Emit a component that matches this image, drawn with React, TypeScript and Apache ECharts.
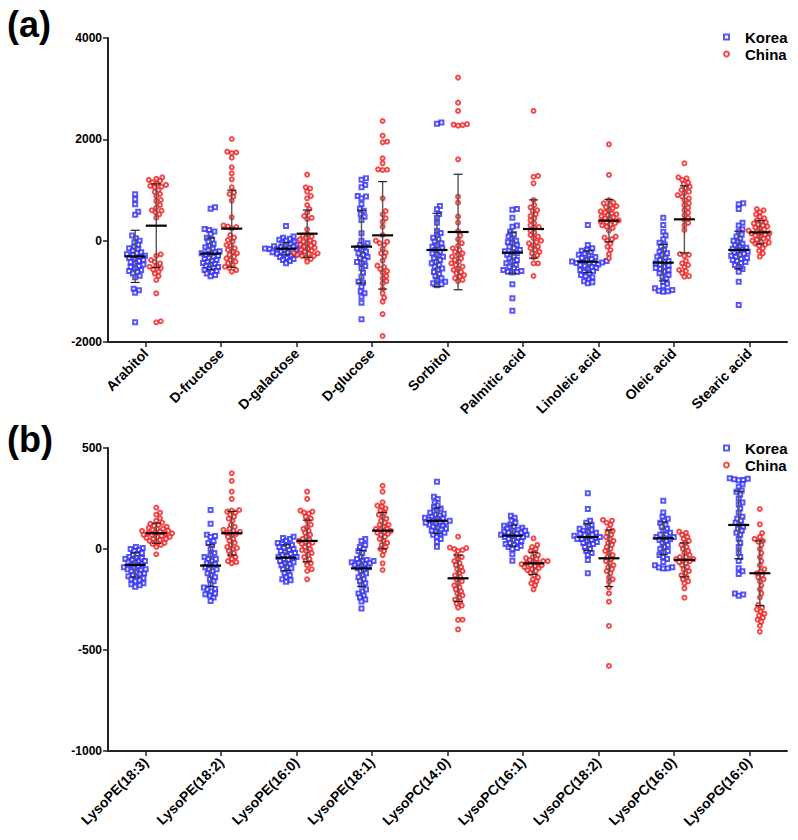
import React, { useEffect, useRef } from "react";
import * as echarts from "echarts";

// ---------- categories ----------
const categoriesA = ["Arabitol", "D-fructose", "D-galactose", "D-glucose", "Sorbitol", "Palmitic acid", "Linoleic acid", "Oleic acid", "Stearic acid"];
const categoriesB = ["LysoPE(18:3)", "LysoPE(18:2)", "LysoPE(16:0)", "LysoPE(18:1)", "LysoPC(14:0)", "LysoPC(16:1)", "LysoPC(18:2)", "LysoPC(16:0)", "LysoPG(16:0)"];

// ---------- panel (a) Korea ----------
const kA_Arabitol = [915, 816, 718, 572, 513, 100, 50, 0, -30, -80, -120, -150, -170, -200, -230, -250, -270, -290, -300, -320, -340, -360, -380, -400, -420, -450, -470, -500, -520, -550, -580, -600, -620, -650, -690, -720, -950, -980, -1030, -1610];
const kA_Fructose = [660, 630, 230, 210, 180, 130, 60, 20, -20, -60, -100, -130, -160, -190, -210, -230, -250, -260, -280, -300, -320, -340, -360, -380, -400, -420, -440, -460, -480, -500, -520, -540, -560, -580, -600, -620, -650, -680, -700];
const kA_Galactose = [290, 80, 60, 40, 20, 0, -20, -40, -60, -80, -90, -100, -110, -120, -130, -140, -150, -155, -160, -165, -170, -180, -190, -200, -210, -220, -230, -240, -250, -260, -270, -280, -300, -320, -340, -360, -380, -400, -447];
const kA_Glucose = [1230, 1200, 1099, 1053, 882, 870, 836, 723, 632, 592, 526, 474, 408, 145, 0, -53, -90, -119, -150, -184, -220, -250, -283, -320, -349, -380, -420, -447, -500, -546, -632, -711, -809, -830, -908, -1000, -1040, -1105, -1224, -1553];
const kA_Sorbitol = [2330, 2310, 684, 619, 526, 454, 355, 198, 150, 105, 60, 26, -20, -53, -90, -119, -150, -184, -220, -250, -280, -316, -350, -382, -420, -447, -480, -513, -550, -579, -620, -658, -700, -743, -780, -809, -842, -860, -880];
const kA_Palmitic = [625, 610, 454, 300, 277, 178, 120, 80, 40, 0, -30, -53, -90, -119, -150, -184, -210, -230, -250, -280, -316, -350, -382, -410, -447, -480, -513, -550, -580, -600, -612, -620, -630, -862, -1138, -1382];
const kA_Linoleic = [309, -86, -150, -184, -200, -230, -260, -280, -300, -320, -340, -360, -380, -400, -410, -420, -430, -440, -450, -460, -470, -480, -500, -520, -540, -560, -580, -600, -620, -650, -680, -720, -760, -800, -842, -820, -700];
const kA_Oleic = [454, 309, 178, 100, 26, -40, -80, -120, -184, -220, -250, -280, -316, -340, -382, -400, -420, -447, -470, -490, -513, -540, -560, -579, -610, -645, -680, -711, -750, -809, -850, -895, -940, -974, -990, -1007, -1000];
const kA_Stearic = [737, 720, 625, 355, 300, 223, 180, 120, 80, 40, 0, -30, -60, -90, -120, -140, -160, -180, -200, -220, -240, -260, -280, -300, -320, -340, -360, -380, -400, -420, -447, -480, -520, -560, -612, -809, -1270];

// ---------- panel (a) China ----------
const cA_Arabitol = [1250, 1220, 1200, 1180, 1150, 1120, 1100, 1080, 1066, 1050, 1000, 960, 921, 880, 803, 780, 704, 650, 600, 592, 560, 520, 454, -270, -300, -382, -420, -450, -500, -513, -540, -570, -612, -650, -700, -776, -1040, -1590, -1612];
const cA_Fructose = [2007, 1757, 1740, 1730, 1638, 1447, 1328, 1210, 1053, 950, 921, 868, 789, 461, 300, 280, 270, 240, 112, 60, 13, -20, -86, -100, -150, -184, -220, -250, -280, -316, -350, -380, -414, -450, -480, -513, -540, -580, -612];
const cA_Galactose = [1303, 1053, 1030, 967, 882, 836, 704, 625, 553, 487, 450, 427, 223, 132, 100, 80, 50, 20, 0, -20, -40, -60, -80, -100, -120, -140, -160, -180, -200, -220, -240, -260, -280, -300, -330, -360, -414, -300, -250];
const cA_Glucose = [2362, 2072, 1954, 1940, 1625, 1527, 1408, 1400, 1395, 836, 585, 520, 441, 375, 277, 112, -20, -86, -164, -237, -316, -395, -493, -520, -559, -600, -632, -700, -743, -800, -842, -954, -1040, -1125, -1204, -1448, -1882, 0, -50, -250];
const cA_Sorbitol = [3218, 2724, 2560, 2300, 2290, 2280, 2270, 1605, 868, 750, 474, 355, 191, 100, 26, -50, -100, -150, -184, -220, -250, -280, -316, -350, -380, -420, -447, -480, -513, -550, -579, -620, -645, -680, -711, -740, -776, -800];
const cA_Palmitic = [2560, 1277, 1260, 1132, 800, 700, 658, 600, 586, 520, 487, 440, 400, 342, 300, 270, 243, 200, 160, 112, 80, 50, 0, -30, -53, -90, -119, -150, -184, -220, -250, -290, -330, -447, -450, -697];
const cA_Linoleic = [1902, 1297, 803, 750, 737, 700, 680, 660, 638, 600, 580, 560, 540, 520, 500, 480, 460, 441, 420, 400, 380, 360, 342, 320, 300, 277, 250, 200, 80, 60, 30, 0, -60, -119, -184, -263, -349];
const cA_Oleic = [1527, 1250, 1230, 1200, 1145, 1120, 1066, 1040, 1000, 967, 940, 900, 870, 836, 800, 737, 700, 650, 600, 553, 500, 450, 408, 350, 300, 211, -263, -280, -300, -400, -447, -480, -520, -579, -600, -640, -711, -700];
const cA_Stearic = [625, 600, 560, 520, 474, 440, 400, 380, 360, 340, 320, 300, 280, 260, 240, 220, 200, 180, 160, 150, 140, 120, 100, 80, 60, 40, 20, 0, -20, -40, -60, -80, -100, -151, -200, -250, -316];

// ---------- panel (b) Korea ----------
const kB_PE183 = [10, 5, 0, -5, -10, -20, -25, -30, -40, -45, -50, -55, -60, -65, -70, -75, -80, -85, -90, -95, -100, -105, -110, -115, -120, -125, -130, -135, -140, -145, -150, -155, -160, -170, -175, -180, -187, -45, -60, -100];
const kB_PE182 = [193, 125, 70, 64, 60, 30, 20, 0, -20, -30, -40, -50, -60, -70, -75, -80, -90, -100, -110, -120, -130, -140, -150, -160, -175, -190, -200, -198, -210, -224, -230, -240, -257, -220, -100, -50, 40];
const kB_PE160 = [61, 55, 50, 40, 30, 25, 20, 15, 10, 5, 0, -5, -10, -15, -20, -25, -30, -35, -40, -45, -50, -55, -60, -65, -70, -75, -80, -90, -100, -110, -120, -130, -140, -150, -155, -162, -95, -40];
const kB_PE181 = [50, 40, 20, 10, 0, -10, -20, -40, -50, -55, -60, -65, -70, -75, -80, -85, -90, -95, -100, -110, -120, -130, -140, -150, -160, -170, -180, -200, -210, -220, -230, -240, -250, -260, -294, -60, -70];
const kB_PC140 = [333, 259, 247, 230, 215, 205, 200, 190, 180, 175, 170, 165, 160, 155, 150, 145, 140, 135, 130, 125, 120, 115, 110, 105, 100, 95, 90, 85, 80, 75, 70, 60, 50, 36, 11, 140, 150, 130];
const kB_PC161 = [165, 155, 140, 130, 120, 115, 110, 105, 100, 95, 90, 85, 80, 75, 70, 66, 60, 55, 50, 45, 40, 35, 30, 25, 20, 15, 10, 5, 0, -26, -58, 70, 60, 80, 90];
const kB_PC182 = [276, 198, 140, 130, 120, 110, 100, 95, 90, 85, 80, 75, 70, 65, 60, 55, 50, 45, 40, 35, 30, 25, 20, 10, 0, -10, -20, -30, -54, -120, 60, 70, 50];
const kB_PC160 = [239, 181, 160, 150, 140, 130, 120, 110, 100, 90, 80, 70, 60, 55, 50, 45, 40, 30, 20, 10, 0, -10, -16, -30, -40, -50, -64, -80, -90, -96, -95, -92, 60, 70];
const kB_PG160 = [350, 348, 345, 342, 340, 320, 308, 290, 284, 270, 250, 230, 220, 200, 180, 160, 150, 140, 130, 120, 110, 100, 90, 80, 70, 50, 30, 10, -20, -40, -60, -95, -110, -124, -220, -225, -231];

// ---------- panel (b) China ----------
const cB_PE183 = [205, 180, 170, 152, 140, 130, 125, 120, 115, 110, 105, 100, 95, 90, 85, 80, 78, 75, 70, 65, 60, 55, 50, 45, 40, 35, 30, 25, 20, 11, -26, 60, 70, 80, 90, 100, 50];
const cB_PE182 = [375, 337, 284, 248, 193, 190, 185, 180, 170, 160, 150, 140, 120, 110, 100, 95, 90, 85, 80, 75, 70, 60, 50, 40, 30, 20, 10, 5, 0, -10, -20, -30, -40, -50, -60, -71, -65];
const cB_PE160 = [284, 248, 190, 185, 180, 175, 160, 150, 140, 120, 100, 90, 80, 70, 60, 50, 45, 40, 35, 30, 25, 20, 10, 0, -5, -10, -20, -30, -40, -50, -60, -70, -80, -100, -109, -150, 110];
const cB_PE181 = [313, 284, 231, 215, 210, 200, 190, 180, 170, 160, 150, 140, 130, 120, 110, 100, 95, 90, 85, 80, 75, 70, 60, 50, 40, 30, 20, 10, 0, -10, -30, -71, -104, 100, 120];
const cB_PC140 = [61, 7, 5, 0, -5, -10, -30, -40, -50, -60, -70, -80, -90, -100, -110, -120, -130, -140, -150, -160, -170, -180, -190, -200, -210, -220, -230, -240, -250, -260, -270, -280, -290, -351, -350, -398];
const cB_PC161 = [53, 20, 10, 0, -10, -20, -30, -40, -45, -50, -55, -60, -65, -70, -75, -80, -85, -90, -95, -100, -105, -110, -120, -130, -140, -150, -160, -170, -180, -200, -70, -80, -60];
const cB_PC182 = [144, 140, 130, 120, 100, 90, 80, 70, 60, 50, 40, 30, 20, 10, 0, -10, -20, -30, -40, -50, -60, -70, -80, -90, -100, -110, -120, -140, -162, -190, -220, -261, -381, -579, -150];
const cB_PC160 = [86, 80, 70, 60, 50, 40, 30, 20, 10, 0, -10, -20, -30, -40, -50, -55, -60, -65, -70, -80, -90, -100, -110, -120, -130, -140, -150, -160, -170, -195, -241, -50, -40];
const cB_PG160 = [198, 122, 79, 60, 50, 40, 36, 20, 0, -20, -40, -60, -80, -100, -110, -120, -130, -140, -150, -160, -180, -200, -220, -240, -277, -290, -300, -310, -320, -330, -340, -350, -360, -380, -409];

// ---------- means and SDs ----------
const meanKoreaA = [-310, -256, -158, -118, -184, -237, -414, -434, -184];
const sdKoreaA = [515, 310, 122, 717, 724, 405, 215, 360, 370];
const meanChinaA = [296, 237, 138, 105, 171, 230, 395, 421, 164];
const sdChinaA = [825, 760, 467, 1060, 1140, 575, 418, 660, 230];
const meanKoreaB = [-79, -82, -43, -96, 140, 66, 59, 53, 119];
const sdKoreaB = [60, 103, 64, 89, 63, 52, 67, 81, 167];
const meanChinaB = [78, 78, 40, 91, -145, -71, -46, -54, -120];
const sdChinaB = [50, 108, 103, 90, 115, 55, 140, 84, 160];

const koreaA = [kA_Arabitol, kA_Fructose, kA_Galactose, kA_Glucose, kA_Sorbitol, kA_Palmitic, kA_Linoleic, kA_Oleic, kA_Stearic];
const chinaA = [cA_Arabitol, cA_Fructose, cA_Galactose, cA_Glucose, cA_Sorbitol, cA_Palmitic, cA_Linoleic, cA_Oleic, cA_Stearic];
const koreaB = [kB_PE183, kB_PE182, kB_PE160, kB_PE181, kB_PC140, kB_PC161, kB_PC182, kB_PC160, kB_PG160];
const chinaB = [cB_PE183, cB_PE182, cB_PE160, cB_PE181, cB_PC140, cB_PC161, cB_PC182, cB_PC160, cB_PG160];

const KOREA = "#2f2ff5";
const CHINA = "#ee2020";
const FONT = "'Liberation Sans', Arial, sans-serif";

const GRID_W = 679;
const CAT_PX = GRID_W / 9;
const GROUP_OFF = 0.14;
const DIAM = 4.2;

// beeswarm layout: horizontal pixel offsets so markers don't overlap
function swarm(values: number[], pxPerUnit: number): number[] {
  const order = values.map((_, i) => i).sort((a, b) => values[a] - values[b]);
  const placed: { x: number; y: number }[] = [];
  const offs = new Array(values.length).fill(0);
  for (const i of order) {
    const y = values[i] * pxPerUnit;
    const near = placed.filter((p) => Math.abs(p.y - y) < DIAM);
    let chosen = 0;
    for (let k = 0; k < 60; k++) {
      const step = Math.ceil(k / 2) * 0.75;
      const cand = k === 0 ? 0 : k % 2 === 1 ? step : -step;
      let ok = true;
      for (const p of near) {
        const dx = p.x - cand, dy = p.y - y;
        if (dx * dx + dy * dy < DIAM * DIAM) { ok = false; break; }
      }
      if (ok) { chosen = cand; break; }
    }
    placed.push({ x: chosen, y });
    offs[i] = chosen;
  }
  return offs;
}

function pointsFor(groups: number[][], side: number, pxPerUnit: number) {
  const out: number[][] = [];
  groups.forEach((vals, ci) => {
    const offs = swarm(vals, pxPerUnit);
    vals.forEach((v, j) => out.push([ci + side * GROUP_OFF + offs[j] / CAT_PX, v]));
  });
  return out;
}

function barsFor(means: number[], sds: number[], side: number) {
  return means.map((m, i) => [i + side * GROUP_OFF, m, sds[i]]);
}

const renderBar = (params: any, api: any) => {
  const x = api.value(0), m = api.value(1), sd = api.value(2);
  const c = api.coord([x, m]);
  const t = api.coord([x, m + sd]);
  const b = api.coord([x, m - sd]);
  return {
    type: "group",
    children: [
      { type: "line", shape: { x1: c[0], y1: t[1], x2: c[0], y2: b[1] }, style: { stroke: "#555", lineWidth: 1.4 } },
      { type: "line", shape: { x1: c[0] - 4.5, y1: t[1], x2: c[0] + 4.5, y2: t[1] }, style: { stroke: "#222", lineWidth: 1.2 } },
      { type: "line", shape: { x1: c[0] - 4.5, y1: b[1], x2: c[0] + 4.5, y2: b[1] }, style: { stroke: "#222", lineWidth: 1.2 } },
      { type: "line", shape: { x1: c[0] - 10.5, y1: c[1], x2: c[0] + 10.5, y2: c[1] }, style: { stroke: "#000", lineWidth: 2.2 } },
    ],
  };
};

export default function App() {
  const ref = useRef<HTMLDivElement>(null);
  useEffect(() => {
    if (!ref.current) return;
    const chart = echarts.init(ref.current, null, { renderer: "svg" });
    const pxA = 304 / 6000;
    const pxB = 303 / 1500;

    const grids = [
      { left: 108, top: 38, width: GRID_W, height: 304 },
      { left: 108, top: 448, width: GRID_W, height: 303 },
    ];
    const axisLine = { show: true, onZero: false, lineStyle: { color: "#222", width: 2 } };
    const catAxis = (cats: string[], gi: number) => ({
      type: "category",
      gridIndex: gi,
      data: cats,
      boundaryGap: true,
      position: "bottom",
      axisLine,
      axisTick: { show: true, alignWithLabel: true, length: 5, lineStyle: { color: "#222", width: 1.5 } },
      axisLabel: { rotate: 45, fontSize: 14, fontWeight: "bold", color: "#000", fontFamily: FONT, margin: 9, interval: 0 },
    });
    const valX = (gi: number) => ({
      type: "value",
      gridIndex: gi,
      min: -0.5,
      max: 8.5,
      show: false,
      axisLine: { onZero: false },
    });
    const yAxis = (gi: number, min: number, max: number, interval: number) => ({
      type: "value",
      gridIndex: gi,
      min,
      max,
      interval,
      position: "left",
      axisLine,
      axisTick: { show: true, length: 5, lineStyle: { color: "#222", width: 1.5 } },
      splitLine: { show: false },
      axisLabel: { fontSize: 12, fontWeight: "bold", color: "#000", fontFamily: FONT, margin: 6, formatter: (v: number) => String(v) },
    });

    const scatter = (name: string, data: number[][], xi: number, yi: number, korea: boolean) => ({
      name,
      type: "scatter",
      xAxisIndex: xi,
      yAxisIndex: yi,
      data,
      symbol: korea ? "emptyRect" : "emptyCircle",
      symbolSize: 4,
      itemStyle: { color: korea ? KOREA : CHINA, borderWidth: 1 },
      z: 2,
    });
    const bars = (data: number[][], xi: number, yi: number) => ({
      type: "custom",
      xAxisIndex: xi,
      yAxisIndex: yi,
      data,
      renderItem: renderBar,
      z: 5,
      silent: true,
    });

    const legend = (top: number) => ({
      orient: "vertical",
      left: 718,
      top,
      itemWidth: 5,
      itemHeight: 5,
      itemGap: 1,
      data: ["Korea", "China"],
      textStyle: { fontSize: 15, fontWeight: "bold", color: "#000", fontFamily: FONT, lineHeight: 16, padding: [0, 0, 0, 11] },
    });

    chart.setOption({
      animation: false,
      backgroundColor: "#fff",
      grid: grids,
      xAxis: [catAxis(categoriesA, 0), valX(0), catAxis(categoriesB, 1), valX(1)],
      yAxis: [yAxis(0, -2000, 4000, 2000), yAxis(1, -1000, 500, 500)],
      legend: [legend(24), legend(435)],
      graphic: [
        { type: "text", left: 7, top: 6, style: { text: "(a)", fontSize: 36, fontWeight: "bold", fill: "#000", font: "bold 36px " + FONT } },
        { type: "text", left: 7, top: 421, style: { text: "(b)", fontSize: 36, fontWeight: "bold", fill: "#000", font: "bold 36px " + FONT } },
      ],
      series: [
        scatter("Korea", pointsFor(koreaA, -1, pxA), 1, 0, true),
        scatter("China", pointsFor(chinaA, 1, pxA), 1, 0, false),
        bars(barsFor(meanKoreaA, sdKoreaA, -1), 1, 0),
        bars(barsFor(meanChinaA, sdChinaA, 1), 1, 0),
        scatter("Korea", pointsFor(koreaB, -1, pxB), 3, 1, true),
        scatter("China", pointsFor(chinaB, 1, pxB), 3, 1, false),
        bars(barsFor(meanKoreaB, sdKoreaB, -1), 3, 1),
        bars(barsFor(meanChinaB, sdChinaB, 1), 3, 1),
      ],
    });
    return () => chart.dispose();
  }, []);
  return <div ref={ref} style={{ position: "fixed", left: 0, top: 0, width: 798, height: 840 }} />;
}
